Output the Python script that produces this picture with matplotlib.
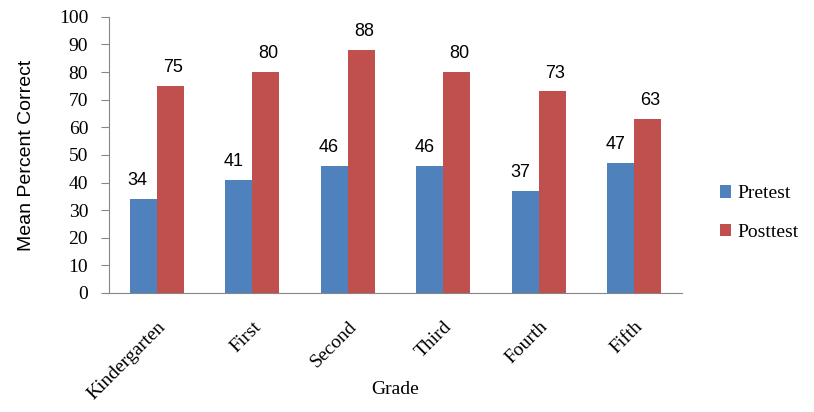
import numpy as np
import matplotlib
matplotlib.use('Agg')
import matplotlib.pyplot as plt

# Data
grades = ['Kindergarten', 'First', 'Second', 'Third', 'Fourth', 'Fifth']
pretest = [34, 41, 46, 46, 37, 47]
posttest = [75, 80, 88, 80, 73, 63]

blue = '#4F81BD'
red = '#C0504D'
serif = 'Liberation Serif'
sans = 'Liberation Sans'

fig = plt.figure(figsize=(8.14, 4.12), dpi=100)
ax = fig.add_axes([0.134, 0.289, 0.704, 0.670])

x = np.arange(len(grades))
w = 0.283
b1 = ax.bar(x - w / 2, pretest, w, color=blue, label='Pretest')
b2 = ax.bar(x + w / 2, posttest, w, color=red, label='Posttest')

for bars, vals, dx in [(b1, pretest, -4), (b2, posttest, 2)]:
    for r, v in zip(bars, vals):
        ax.annotate(str(v), (r.get_x() + r.get_width() / 2, v),
                    xytext=(dx, 7), textcoords='offset points',
                    ha='center', va='bottom', fontsize=13, family=sans)

ax.set_xlim(-0.5, len(grades) - 0.5)
ax.set_ylim(0, 100)
ax.set_yticks(range(0, 101, 10))
ax.set_yticklabels([str(t) for t in range(0, 101, 10)],
                   fontsize=14, family=serif)
ax.set_xticks(x)
ax.set_xticklabels(grades, rotation=45, ha='right', rotation_mode='anchor',
                   fontsize=14, family=serif)
ax.tick_params(axis='x', length=0, pad=18)
ax.tick_params(axis='y', length=6, color='#868686', pad=9)

for s in ['top', 'right']:
    ax.spines[s].set_visible(False)
ax.spines['left'].set_color('#868686')
ax.spines['bottom'].set_color('#868686')

ax.set_ylabel('Mean Percent Correct', fontsize=14, family=sans)
ax.yaxis.set_label_coords(-0.13, 0.5)
ax.set_xlabel('Grade', fontsize=14, family=serif)
ax.xaxis.set_label_coords(0.5, -0.32)

ax.legend(loc='center left', bbox_to_anchor=(1.035, 0.29), frameon=False,
          prop={'family': serif, 'size': 14}, handlelength=0.6,
          handleheight=0.6, handletextpad=0.3, labelspacing=1.1)

fig.savefig('out.png', dpi=100)
